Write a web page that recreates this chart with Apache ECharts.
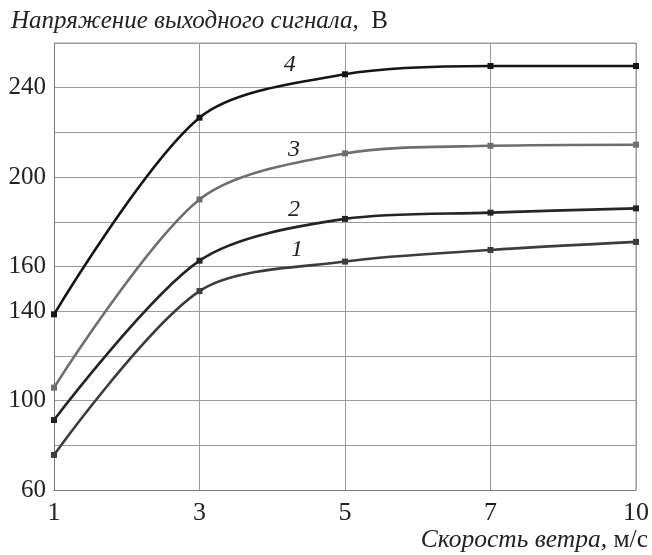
<!DOCTYPE html>
<html>
<head>
<meta charset="utf-8">
<script src="https://cdn.jsdelivr.net/npm/echarts@6/dist/echarts.min.js"></script>
<style>html,body{margin:0;padding:0;background:#fff}#c{width:652px;height:555px}</style>
</head>
<body>
<div id="c"></div>
<script>
const categories = ['1', '3', '5', '7', '10'];
const curve1 = [75.7, 149, 162.2, 167.4, 171];
const curve2 = [91.3, 162.6, 181.3, 184.1, 186];
const curve3 = [105.8, 190, 210.6, 214, 214.5];
const curve4 = [138.6, 226.6, 246, 249.7, 249.7];
const yTickLabels = [60, 100, 140, 160, 200, 240];
const curveNames = ['1', '2', '3', '4'];
// curve-number label anchors: [category position, value]
const curveLabelPos = [[1.67, 167.4], [1.65, 185.3], [1.65, 212.1], [1.62, 250.2]];

const serif = '"Liberation Serif", "DejaVu Serif", serif';
const colors = ['#3c3c3c', '#242424', '#6e6e6e', '#151515'];
const dataAll = [curve1, curve2, curve3, curve4];

const chart = echarts.init(document.getElementById('c'), null, {renderer: 'canvas'});
const option = {
  animation: false,
  grid: {left: 54, top: 43, right: 15, bottom: 65, containLabel: false},
  xAxis: {
    type: 'category',
    data: categories,
    boundaryGap: false,
    axisLine: {lineStyle: {color: '#7a7a7a', width: 1}},
    axisTick: {show: false},
    axisLabel: {color: '#222', fontFamily: serif, fontSize: 26, margin: 10},
    splitLine: {show: true, lineStyle: {color: '#9a9a9a', width: 1}}
  },
  yAxis: {
    type: 'value',
    min: 60, max: 260, interval: 20,
    axisLine: {show: true, lineStyle: {color: '#7a7a7a', width: 1}},
    axisTick: {show: false},
    axisLabel: {
      color: '#222', fontFamily: serif, fontSize: 25, margin: 8,
      formatter: v => yTickLabels.indexOf(v) >= 0 ? String(v) : ''
    },
    splitLine: {show: true, lineStyle: {color: '#9a9a9a', width: 1}}
  },
  series: dataAll.map((d, i) => ({
    type: 'line',
    name: curveNames[i],
    data: d,
    smooth: 0.3,
    symbol: 'rect',
    symbolSize: 6,
    showAllSymbol: true,
    lineStyle: {color: colors[i], width: 2.6},
    itemStyle: {color: colors[i]},
    z: 3 + i
  }))
};
chart.setOption(option);

const gr = chart.getModel().getComponent('grid').coordinateSystem.getRect();
const graphics = [
  {type: 'line', shape: {x1: gr.x + gr.width, y1: gr.y, x2: gr.x + gr.width, y2: gr.y + gr.height},
   style: {stroke: '#9a9a9a', lineWidth: 1}, z: 1},
  {type: 'line', shape: {x1: gr.x, y1: gr.y, x2: gr.x + gr.width, y2: gr.y},
   style: {stroke: '#9a9a9a', lineWidth: 1}, z: 1},
  {type: 'text', left: 11, top: 9,
   style: {text: '{i|Напряжение выходного сигнала,}{n|  В}', rich: {
     i: {fontFamily: serif, fontStyle: 'italic', fontSize: 25, fill: '#222'},
     n: {fontFamily: serif, fontStyle: 'normal', fontSize: 25, fill: '#222'}}}},
  {type: 'text', right: 4, top: 527,
   style: {text: '{i|Скорость ветра,}{n| м/с}', rich: {
     i: {fontFamily: serif, fontStyle: 'italic', fontSize: 25.5, fill: '#222'},
     n: {fontFamily: serif, fontStyle: 'normal', fontSize: 25.5, fill: '#222'}}}}
];
curveLabelPos.forEach((p, i) => {
  const base = Math.floor(p[0]);
  const f = p[0] - base;
  const a = chart.convertToPixel({gridIndex: 0}, [base, p[1]]);
  const b = chart.convertToPixel({gridIndex: 0}, [base + 1, p[1]]);
  graphics.push({type: 'text', x: a[0] + (b[0] - a[0]) * f, y: a[1],
    style: {text: curveNames[i], fontFamily: serif, fontStyle: 'italic', fontSize: 24,
      fill: '#222', align: 'center', verticalAlign: 'middle'}, z: 10});
});
chart.setOption({graphic: graphics});
</script>
</body>
</html>
